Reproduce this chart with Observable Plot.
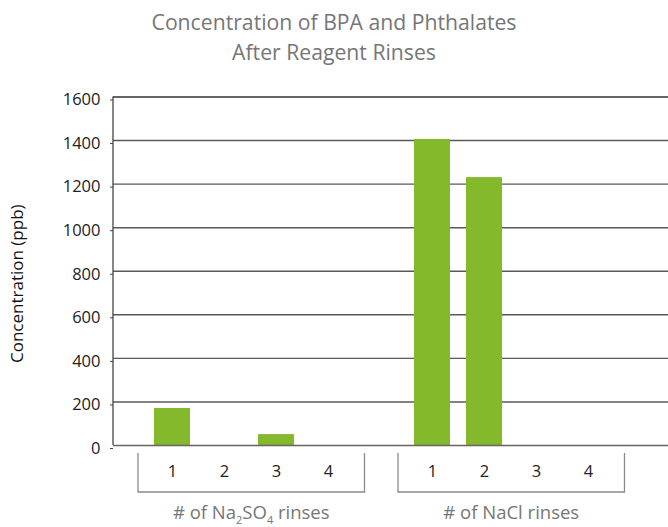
<!DOCTYPE html>
<html>
<head>
<meta charset="utf-8">
<script src="https://cdn.jsdelivr.net/npm/d3@7"></script>
<script src="https://cdn.jsdelivr.net/npm/@observablehq/plot@0.6"></script>
<style>
  html, body { margin: 0; padding: 0; background: #fff; }
  #title { width: 668px; height: 70px; box-sizing: border-box; padding-top: 7px;
    font-family: "Open Sans", sans-serif; font-size: 21.2px; line-height: 30px;
    color: #767676; text-align: center; }
  #chart svg { display: block; }
</style>
</head>
<body>
<div id="title">Concentration of BPA and Phthalates<br>After Reagent Rinses</div>
<div id="chart"></div>
<script>
// ---- data ----
const na2so4Rinses = ["1", "2", "3", "4"];
const na2so4Values = [170, 0, 50, 0];
const naclRinses = ["1", "2", "3", "4"];
const naclValues = [1405, 1230, 0, 0];
const groupNames = ["Na2SO4", "NaCl"];
const yTicks = [0, 200, 400, 600, 800, 1000, 1200, 1400, 1600];
const yLabel = "Concentration (ppb)";

// ---- build table ----
const rows = [];
na2so4Rinses.forEach((r, i) => rows.push({group: "Na2SO4", rinse: r, key: "Na2SO4|" + r, value: na2so4Values[i]}));
naclRinses.forEach((r, i) => rows.push({group: "NaCl", rinse: r, key: "NaCl|" + r, value: naclValues[i]}));
const domain = [
  ...na2so4Rinses.map(r => "Na2SO4|" + r),
  "gap",
  ...naclRinses.map(r => "NaCl|" + r)
];
const groups = groupNames.map(g => ({group: g, keys: rows.filter(d => d.group === g).map(d => d.key)}));

const FONT = '"Open Sans", sans-serif';
const W = 668, H = 457, ML = 113, MT = 27, MB = 81;

const plot = Plot.plot({
  width: W,
  height: H,
  marginLeft: ML,
  marginRight: 0,
  marginTop: MT,
  marginBottom: MB,
  style: {fontFamily: FONT, fontSize: "16px", color: "#222", background: "#fff"},
  x: {type: "band", domain, range: [143.5, 616], paddingInner: 0.3, paddingOuter: 0.15},
  y: {domain: [0, 1600], range: [H - MB - 1, MT - 0.5]},
  marks: [
    Plot.ruleY(yTicks.filter(t => t > 0 && t < 1600), {stroke: "#595959", strokeWidth: 1.4}),
    Plot.ruleY([1600], {stroke: "#333", strokeWidth: 1.4}),
    Plot.barY(rows, {x: "key", y: "value", fill: "#83b92a"}),
    Plot.ruleY([0], {stroke: "#666", strokeWidth: 1.6}),
    Plot.axisY({ticks: yTicks, tickFormat: d => String(d), tickSize: 3, tickPadding: 10, label: null, fontSize: 16.5, dy: 3, stroke: "#444"}),
    Plot.axisX({
      ticks: domain.filter(k => k !== "gap"),
      tickFormat: k => k.split("|")[1],
      tickSize: 0, tickPadding: 19, label: null, fontSize: 16.5
    })
  ]
});

// extra elements drawn with the plot's own scales
const xs = plot.scale("x");
const ys = plot.scale("y");
const svg = d3.select(plot);
const bw = xs.bandwidth;

// y-axis line
svg.append("line")
  .attr("x1", ML).attr("x2", ML)
  .attr("y1", ys.apply(0)).attr("y2", ys.apply(1600))
  .attr("stroke", "#444").attr("stroke-width", 1.3);

// y-axis title
svg.append("text")
  .attr("transform", `translate(18,${(ys.apply(0) + ys.apply(1600)) / 2 + 13}) rotate(-90)`)
  .attr("text-anchor", "middle").attr("dominant-baseline", "middle")
  .attr("font-family", FONT).attr("font-size", "17px").attr("fill", "#111")
  .text(yLabel);

// group brackets and labels
const y0 = H - MB + 7, y1 = y0 + 39;
for (const grp of groups) {
  const xa = xs.apply(grp.keys[0]) - 16;
  const xb = xs.apply(grp.keys[grp.keys.length - 1]) + bw + 18.5;
  svg.append("path")
    .attr("d", `M${xa},${y0}V${y1}H${xb}V${y0}`)
    .attr("fill", "none").attr("stroke", "#8a8a8a").attr("stroke-width", 1.3);
  const t = svg.append("text")
    .attr("x", (xa + xb) / 2).attr("y", y1 + 27)
    .attr("text-anchor", "middle")
    .attr("font-family", FONT).attr("font-size", "18.5px").attr("fill", "#767676");
  if (grp.group === "Na2SO4") {
    const parts = [["# of Na", 0], ["2", 1], ["SO", 0], ["4", 1], [" rinses", 0]];
    for (const [s, sub] of parts) {
      const ts = t.append("tspan").text(s);
      if (sub) ts.attr("font-size", "11px").attr("baseline-shift", "-5");
    }
  } else {
    t.text("# of " + grp.group + " rinses");
  }
}

document.getElementById("chart").appendChild(plot);
</script>
</body>
</html>
